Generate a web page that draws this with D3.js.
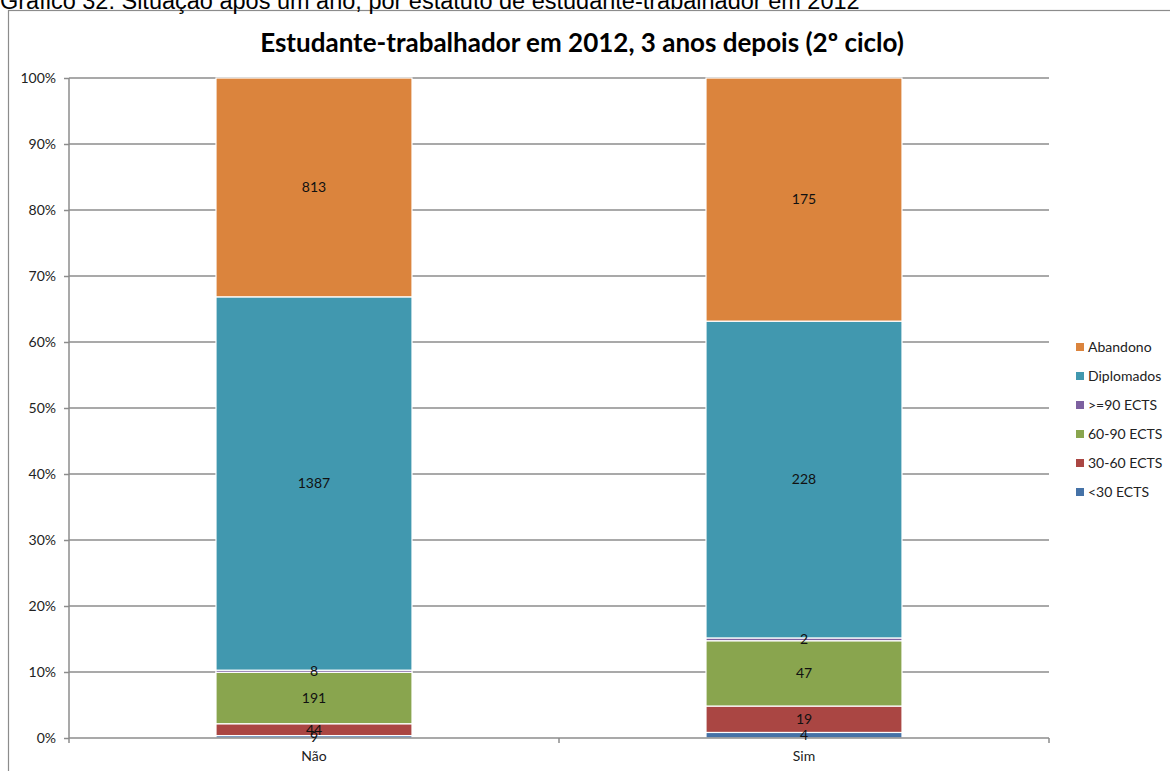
<!DOCTYPE html>
<html>
<head>
<meta charset="utf-8">
<script src="https://cdn.jsdelivr.net/npm/d3@7"></script>
<style>
  body { margin: 0; background: #fff; }
  svg { display: block; }
</style>
</head>
<body>
<div id="chart"></div>
<script>
// chart data
var categories = ["Não", "Sim"];
var seriesNames = ["<30 ECTS", "30-60 ECTS", "60-90 ECTS", ">=90 ECTS", "Diplomados", "Abandono"];
var seriesColors = ["#4572a7", "#aa4643", "#89a54e", "#7d60a0", "#4198af", "#db843d"];
var lt30 = [9, 4];
var ects30to60 = [44, 19];
var ects60to90 = [191, 47];
var ge90 = [8, 2];
var diplomados = [1387, 228];
var abandono = [813, 175];
var yTicks = [0, 0.1, 0.2, 0.3, 0.4, 0.5, 0.6, 0.7, 0.8, 0.9, 1];

var svgWidth = 1170;
var svgHeight = 771;

var plot = { left: 69, right: 1049, top: 78, bottom: 738 };
var font = "Lato, Carlito, Calibri, sans-serif";

var svg = d3.select("#chart")
    .append("svg")
    .attr("width", svgWidth)
    .attr("height", svgHeight);

// outer frame of the chart object
svg.append("rect")
    .attr("x", 8.5).attr("y", 10.5)
    .attr("width", 1170).attr("height", 800)
    .attr("fill", "#fff")
    .attr("stroke", "#8c8c8c")
    .attr("stroke-width", 1.2);

// caption above the chart (cut at the top in the source)
svg.append("text")
    .attr("x", 0).attr("y", 9)
    .attr("font-family", "Liberation Sans, Arial, sans-serif")
    .attr("font-size", 23.5)
    .attr("fill", "#000")
    .text("Gráfico 32: Situação após um ano, por estatuto de estudante-trabalhador em 2012");

// title
svg.append("text")
    .attr("x", 582).attr("y", 52)
    .attr("text-anchor", "middle")
    .attr("font-family", font)
    .attr("font-weight", "bold")
    .attr("font-size", 26)
    .attr("fill", "#000")
    .text("Estudante-trabalhador em 2012, 3 anos depois (2º ciclo)");

// build rows, then stack as percentages
var raw = [lt30, ects30to60, ects60to90, ge90, diplomados, abandono];
var rows = categories.map(function(c, i) {
    var r = { cat: c };
    seriesNames.forEach(function(s, j) { r[s] = raw[j][i]; });
    return r;
});

var stack = d3.stack()
    .keys(seriesNames)
    .offset(d3.stackOffsetExpand);
var stacked = stack(rows);

var xScale = d3.scaleBand()
    .domain(categories)
    .range([plot.left, plot.right])
    .paddingInner(0.6)
    .paddingOuter(0.3);

var yScale = d3.scaleLinear()
    .domain([0, 1])
    .range([plot.bottom, plot.top]);

// gridlines
svg.append("g")
    .selectAll("line")
    .data(yTicks.slice(1))
    .enter().append("line")
    .attr("x1", plot.left).attr("x2", plot.right)
    .attr("y1", d => yScale(d)).attr("y2", d => yScale(d))
    .attr("stroke", "#8c8c8c")
    .attr("stroke-width", 1.5);

// y axis
var leftAxis = d3.axisLeft(yScale)
    .tickValues(yTicks)
    .tickFormat(d3.format(".0%"))
    .tickSize(5)
    .tickPadding(8);

var yAxisG = svg.append("g")
    .attr("transform", `translate(${plot.left}, 0)`)
    .call(leftAxis);
yAxisG.select(".domain").remove();
yAxisG.selectAll("line").attr("stroke", "#8c8c8c").attr("stroke-width", 1.5);
yAxisG.append("line")
    .attr("x1", 0).attr("x2", 0)
    .attr("y1", plot.top).attr("y2", plot.bottom)
    .attr("stroke", "#8c8c8c").attr("stroke-width", 1.5);
yAxisG.selectAll("text")
    .attr("font-family", font)
    .attr("font-size", 14)
    .attr("fill", "#222");

// bars
var layers = svg.append("g")
    .selectAll("g")
    .data(stacked)
    .enter().append("g")
    .attr("fill", (d, i) => seriesColors[i]);

layers.selectAll("rect")
    .data(d => d)
    .enter().append("rect")
    .attr("x", d => xScale(d.data.cat))
    .attr("width", xScale.bandwidth())
    .attr("y", d => yScale(d[1]))
    .attr("height", d => yScale(d[0]) - yScale(d[1]))
    .attr("stroke", "#fff")
    .attr("stroke-width", 1.2);

// x axis
var bottomAxis = d3.axisBottom(xScale).tickSize(0).tickPadding(13);
var xAxisG = svg.append("g")
    .attr("transform", `translate(0, ${plot.bottom})`)
    .call(bottomAxis);
xAxisG.select(".domain").remove();
xAxisG.append("line")
    .attr("x1", plot.left).attr("x2", plot.right)
    .attr("y1", 0).attr("y2", 0)
    .attr("stroke", "#8c8c8c").attr("stroke-width", 1.5);
// tick marks between categories
xAxisG.selectAll(".sep")
    .data(d3.range(categories.length + 1))
    .enter().append("line")
    .attr("x1", i => plot.left + i * (plot.right - plot.left) / categories.length)
    .attr("x2", i => plot.left + i * (plot.right - plot.left) / categories.length)
    .attr("y1", 0).attr("y2", 5)
    .attr("stroke", "#8c8c8c").attr("stroke-width", 1.5);
xAxisG.selectAll(".tick text")
    .attr("font-family", font)
    .attr("font-size", 14)
    .attr("fill", "#222");

// data labels, drawn above all bars
var labelData = [];
stacked.forEach(function(layer) {
    layer.forEach(function(p) { labelData.push({ p: p, key: layer.key }); });
});
svg.append("g")
    .selectAll("text")
    .data(labelData)
    .enter().append("text")
    .attr("x", d => xScale(d.p.data.cat) + xScale.bandwidth() / 2)
    .attr("y", d => (yScale(d.p[0]) + yScale(d.p[1])) / 2)
    .attr("dy", "0.35em")
    .attr("text-anchor", "middle")
    .attr("font-family", font)
    .attr("font-size", 14)
    .attr("fill", "#111")
    .text(d => d.p.data[d.key]);

// legend (top to bottom in reverse stacking order)
var legendItems = seriesNames.map((s, i) => ({ name: s, color: seriesColors[i] })).reverse();
var legend = svg.append("g")
    .selectAll("g")
    .data(legendItems)
    .enter().append("g")
    .attr("transform", (d, i) => `translate(1076, ${347 + i * 29})`);
legend.append("rect")
    .attr("x", 0).attr("y", -4)
    .attr("width", 8).attr("height", 8)
    .attr("fill", d => d.color);
legend.append("text")
    .attr("x", 12).attr("y", 0)
    .attr("dy", "0.35em")
    .attr("font-family", font)
    .attr("font-size", 14)
    .attr("fill", "#222")
    .text(d => d.name);
</script>
</body>
</html>
